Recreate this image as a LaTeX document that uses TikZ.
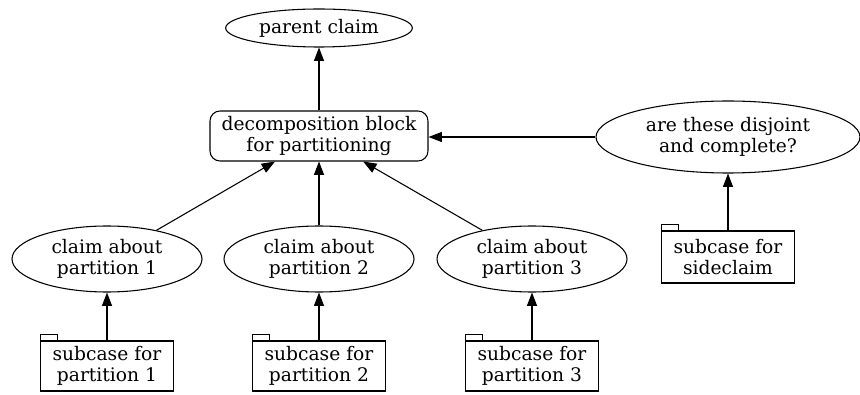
\documentclass[tikz,border=0pt]{standalone}
\usepackage{fontspec}
\setmainfont{DejaVu Serif}
\usetikzlibrary{shapes.geometric,arrows.meta}
\begin{document}
\begin{tikzpicture}[x=0.75pt,y=-0.75pt,
  every node/.style={font=\fontsize{14pt}{15.5pt}\selectfont, align=center, inner sep=0pt},
  claim/.style={draw, ellipse, line width=0.8pt},
  block/.style={draw, rectangle, rounded corners=7.5pt, line width=0.8pt},
  subcase/.style={draw, rectangle, line width=0.8pt, minimum width=99.5pt, minimum height=37.5pt,
    append after command={\pgfextra{\draw[line width=0.8pt] (\tikzlastnode.north west) -- ++(0,-6) -- ++(17,0) -- ++(0,6);}}},
  link/.style={line width=0.8pt, -{Triangle[length=10pt,width=7.5pt]}}
]
\useasboundingbox (0,0) rectangle (860,395);

\node[claim, minimum width=140pt, minimum height=28.5pt] (parent) at (319,28) {parent claim};
\node[block, minimum width=163.5pt, minimum height=37.5pt] (decomp) at (319,136) {decomposition block\\for partitioning};
\node[claim, minimum width=198pt, minimum height=54pt] (disj) at (728,137) {are these disjoint\\and complete?};

\node[claim, minimum width=142.5pt, minimum height=49.5pt] (c1) at (107,259) {claim about\\partition 1};
\node[claim, minimum width=142.5pt, minimum height=49.5pt] (c2) at (319,259) {claim about\\partition 2};
\node[claim, minimum width=142.5pt, minimum height=49.5pt] (c3) at (532,259) {claim about\\partition 3};

\node[subcase] (s1) at (107,366) {subcase for\\partition 1};
\node[subcase] (s2) at (319,366) {subcase for\\partition 2};
\node[subcase] (s3) at (532,366) {subcase for\\partition 3};
\node[subcase, minimum height=39pt] (ss) at (728,257) {subcase for\\sideclaim};

\draw[link] (decomp) -- (parent);
\draw[link] (disj.west) -- (decomp.east |- disj.west);
\draw[link] (ss.north) -- (disj);
\draw[link] (c1) -- (decomp);
\draw[link] (c2) -- (decomp);
\draw[link] (c3) -- (decomp);
\draw[link] (s1.north) -- (c1);
\draw[link] (s2.north) -- (c2);
\draw[link] (s3.north) -- (c3);
\end{tikzpicture}
\end{document}
